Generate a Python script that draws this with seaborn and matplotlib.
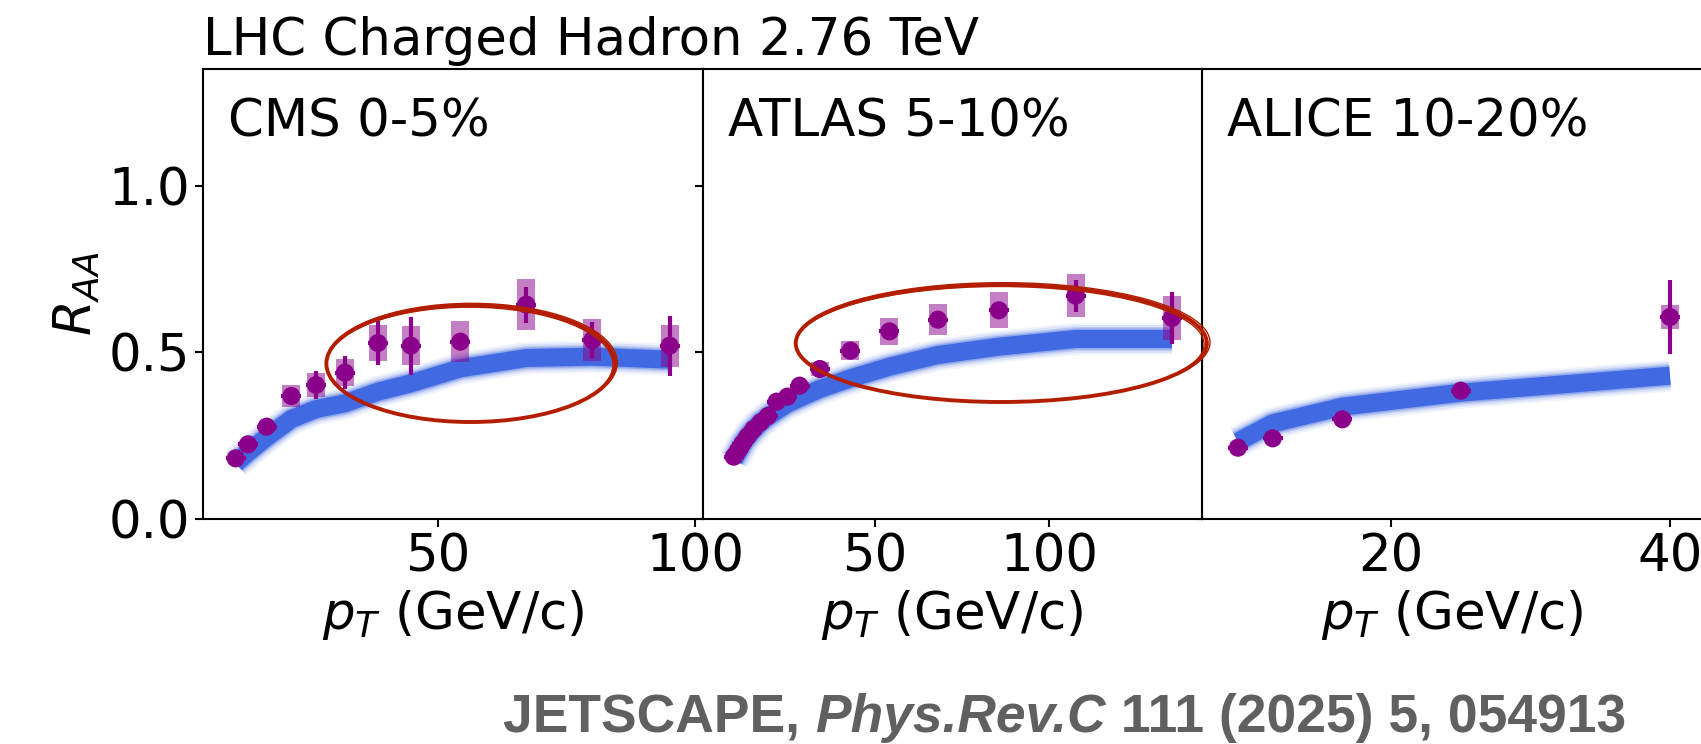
import numpy as np
import pandas as pd
import seaborn as sns
import matplotlib.pyplot as plt
from matplotlib.patches import Ellipse

# CMS 0-5%
cms_pt = [10.8, 13.2, 16.8, 21.6, 26.4, 32.0, 38.4, 44.8, 54.4, 67.2, 80.0, 95.0]
cms_raa = [0.182, 0.224, 0.277, 0.369, 0.402, 0.439, 0.528, 0.520, 0.532, 0.643, 0.537, 0.520]
cms_stat = [0.004, 0.005, 0.006, 0.008, 0.042, 0.050, 0.065, 0.087, 0.020, 0.054, 0.055, 0.090]
cms_syst = [0.008, 0.010, 0.012, 0.032, 0.035, 0.040, 0.055, 0.058, 0.062, 0.077, 0.064, 0.063]
cms_model = [0.167, 0.200, 0.245, 0.300, 0.330, 0.347, 0.382, 0.407, 0.452, 0.483, 0.487, 0.478]

# ATLAS 5-10%
atlas_pt = [9.5, 10.7, 12.0, 13.5, 15.2, 17.2, 19.3, 21.8, 24.9, 28.4, 34.2, 43.0,
            54.2, 68.1, 85.6, 107.6, 135.3]
atlas_raa = [0.187, 0.205, 0.226, 0.248, 0.270, 0.290, 0.309, 0.352, 0.367, 0.400, 0.450, 0.505,
             0.563, 0.598, 0.626, 0.670, 0.603]
atlas_stat = [0.004, 0.004, 0.004, 0.004, 0.004, 0.004, 0.004, 0.004, 0.004, 0.004, 0.005, 0.006,
              0.008, 0.010, 0.012, 0.048, 0.079]
atlas_syst = [0.006, 0.006, 0.006, 0.006, 0.006, 0.006, 0.007, 0.008, 0.010, 0.012, 0.022, 0.028,
              0.040, 0.046, 0.054, 0.065, 0.065]
atlas_model = [0.178, 0.200, 0.225, 0.247, 0.268, 0.290, 0.307, 0.325, 0.346, 0.363, 0.390, 0.422,
               0.457, 0.492, 0.517, 0.540, 0.540]

# ALICE 10-20%
alice_pt = [9.0, 11.5, 16.5, 25.0, 40.0]
alice_raa = [0.214, 0.242, 0.299, 0.385, 0.606]
alice_stat = [0.004, 0.004, 0.005, 0.006, 0.112]
alice_syst = [0.004, 0.004, 0.005, 0.006, 0.035]
alice_model = [0.232, 0.287, 0.337, 0.379, 0.430]

panels = [
    ("CMS 0-5%", cms_pt, cms_raa, cms_stat, cms_syst, cms_model, (4.45, 101.4), [50, 100]),
    ("ATLAS 5-10%", atlas_pt, atlas_raa, atlas_stat, atlas_syst, atlas_model, (0.57, 144.0), [50, 100]),
    ("ALICE 10-20%", alice_pt, alice_raa, alice_stat, alice_syst, alice_model, (6.45, 42.3), [20, 40]),
]

# hand-drawn highlight ellipses (panel, centre, width, height)
circles = [(0, (56.4, 0.466), 56.0, 0.350), (1, (86.3, 0.527), 118.0, 0.352)]

sns.set_style("ticks")
plt.rcParams['font.family'] = ['DejaVu Sans']
plt.rcParams['axes.linewidth'] = 1.5
for k in ['text.color', 'axes.labelcolor', 'xtick.color', 'ytick.color', 'axes.edgecolor']:
    plt.rcParams[k] = 'black'

purple = '#8b008b'
blue = '#4169e1'
red = '#b41e00'

fig, axes = plt.subplots(1, 3, sharey=True, figsize=(17.01, 7.44), dpi=100,
                         gridspec_kw=dict(wspace=0))
fig.subplots_adjust(left=0.1193, right=1.0006, bottom=0.3024, top=0.9073)

for ax, (name, pt, raa, stat, syst, model, xlim, xt) in zip(axes, panels):
    df = pd.DataFrame({'pt': pt, 'raa': raa, 'model': model})
    # blurred model band
    for w, a in [(32, 0.07), (28, 0.12), (24, 0.2), (21, 0.35), (18, 1.0)]:
        sns.lineplot(data=df, x='pt', y='model', ax=ax, color=blue, lw=w * 0.72, alpha=a,
                     solid_capstyle='butt', zorder=1)
    ax.errorbar(pt, raa, yerr=syst, fmt='none', elinewidth=13, ecolor=purple, alpha=0.5, zorder=2)
    ax.errorbar(pt, raa, yerr=stat, fmt='none', elinewidth=3, ecolor=purple, zorder=3)
    ax.plot(pt, raa, ls='none', marker='_', ms=15, mew=3, color=purple, zorder=3)
    sns.scatterplot(data=df, x='pt', y='raa', ax=ax, color=purple, s=170, edgecolor='none', zorder=4)
    ax.set_xlim(*xlim)
    ax.set_xticks(xt)
    ax.set_xlabel(r'$p_T$ (GeV/c)', fontsize=37)
    ax.set_ylabel('')
    ax.text(0.05, 0.85, name, transform=ax.transAxes, fontsize=37, va='baseline')
    ax.tick_params(labelsize=37, length=6, width=1.5)

axes[0].set_ylim(0, 1.35)
axes[0].set_yticks([0.0, 0.5, 1.0])
axes[0].set_ylabel(r'$R_{AA}$', fontsize=37)
axes[0].set_title('LHC Charged Hadron 2.76 TeV', loc='left', fontsize=37, pad=10)

# sketchy red outlines: a few slightly different strokes
for i, c, w, h in circles:
    ax = axes[i]
    for dx, dy, dw, dh, lw in [(0, 0, 0, 0, 2.8), (0.2 * (i + 1), 0.003, 0.5 * (i + 1), 0.006, 1.0),
                               (-0.2 * (i + 1), -0.003, -0.4 * (i + 1), -0.005, 1.0)]:
        ax.add_patch(Ellipse((c[0] + dx, c[1] + dy), w + dw, h + dh, fill=False, ec=red, lw=lw,
                             clip_on=False, zorder=10))
axes[1].set_zorder(5)

# citation line at the bottom
fig.canvas.draw()
r = fig.canvas.get_renderer()
x = 0.296
for s, st in [("JETSCAPE, ", 'normal'), ("Phys.Rev.C", 'italic'), (" 111 (2025) 5, 054913", 'normal')]:
    t = fig.text(x, 0.016, s, fontsize=38.4, fontweight='bold', style=st, color='#606060',
                 family='Liberation Sans')
    x += t.get_window_extent(renderer=r).width / fig.bbox.width

fig.savefig('out.png', dpi=100)
